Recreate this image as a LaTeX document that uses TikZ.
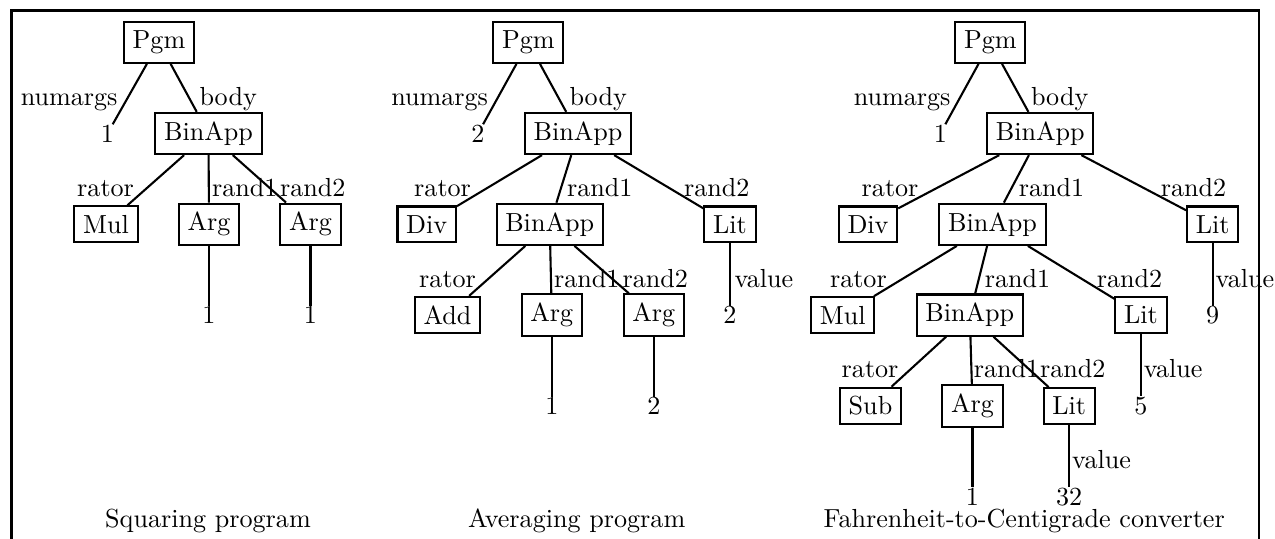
\documentclass[tikz,border=0pt]{standalone}
\usepackage{tikz}
\tikzset{
         astnode/.style={draw,thick,rectangle},
         leafval/.style={inner sep=0pt},
         edgelbl/.style={inner sep=0pt},
         astedge/.style={thick}
        }
\begin{document}
\begin{tikzpicture}[x=0.383pt,y=-0.383pt]
  \useasboundingbox (0,0) rectangle (1275,539);
  \draw[line width=1pt] (11.3,539) -- (11.3,10.5) -- (1259,10.5) -- (1259,539); % Frame
      % Squaring program
      \node[astnode] (pgmA) at (159,42.5) {Pgm};
      \node[leafval] (numA) at (107.5,133.5) {1};
      \node[astnode] (binA) at (208.5,133.5) {BinApp};
      \node[astnode] (mulA) at (106,224.3) {Mul};
      \node[astnode] (argA1) at (209,224.3) {Arg};
      \node[astnode] (argA2) at (310.5,224.3) {Arg};
      \node[leafval] (oneA1) at (209,315.1) {1};
      \node[leafval] (oneA2) at (310.5,315.1) {1};
      \draw[astedge] (pgmA) -- (numA); % numargs edge
      \draw[astedge] (pgmA) -- (binA); % body edge
      \draw[astedge] (binA) -- (mulA); % rator edge
      \draw[astedge] (binA) -- (argA1); % rand1 edge
      \draw[astedge] (binA) -- (argA2); % rand2 edge
      \draw[astedge] (argA1) -- (oneA1); % Arg leaf
      \draw[astedge] (argA2) -- (oneA2); % Arg leaf
      \node[edgelbl,anchor=base east] (lNumA) at (118,106) {numargs};
      \node[edgelbl,anchor=base west] (lBodyA) at (199,106) {body};
      \node[edgelbl,anchor=base east] (lRatorA) at (134.5,196.7) {rator};
      \node[edgelbl,anchor=base west] (lRandA1) at (211.5,196.7) {rand1};
      \node[edgelbl,anchor=base east] (lRandA2) at (346,196.7) {rand2};
      \node[anchor=base] (capA) at (208,528) {Squaring program}; % caption
      % Averaging program
      \node[astnode] (pgmB) at (528.3,42.5) {Pgm};
      \node[leafval] (numB) at (478,133.5) {2};
      \node[astnode] (binB) at (578,133.5) {BinApp};
      \node[astnode] (divB) at (426.7,224.3) {Div};
      \node[astnode] (bin2B) at (549.7,224.3) {BinApp};
      \node[astnode] (litB) at (730,224.3) {Lit};
      \node[astnode] (addB) at (447.5,315.1) {Add};
      \node[astnode] (argB1) at (551.8,315.1) {Arg};
      \node[astnode] (argB2) at (653.8,315.1) {Arg};
      \node[leafval] (valB) at (730,315.1) {2};
      \node[leafval] (oneB) at (551.8,405.9) {1};
      \node[leafval] (twoB) at (653.8,405.9) {2};
      \draw[astedge] (pgmB) -- (numB); % numargs edge
      \draw[astedge] (pgmB) -- (binB); % body edge
      \draw[astedge] (binB) -- (divB); % rator edge
      \draw[astedge] (binB) -- (bin2B); % rand1 edge
      \draw[astedge] (binB) -- (litB); % rand2 edge
      \draw[astedge] (bin2B) -- (addB); % rator edge
      \draw[astedge] (bin2B) -- (argB1); % rand1 edge
      \draw[astedge] (bin2B) -- (argB2); % rand2 edge
      \draw[astedge] (litB) -- (valB); % value edge
      \draw[astedge] (argB1) -- (oneB); % Arg leaf
      \draw[astedge] (argB2) -- (twoB); % Arg leaf
      \node[edgelbl,anchor=base east] (lNumB) at (488.5,106) {numargs};
      \node[edgelbl,anchor=base west] (lBodyB) at (569,106) {body};
      \node[edgelbl,anchor=base east] (lRatorB) at (471.5,196.7) {rator};
      \node[edgelbl,anchor=base west] (lRandB1) at (566.5,196.7) {rand1};
      \node[edgelbl,anchor=base east] (lRandB2) at (750,196.7) {rand2};
      \node[edgelbl,anchor=base east] (lRatorB2) at (476.5,287.1) {rator};
      \node[edgelbl,anchor=base west] (lRandB3) at (553.5,287.1) {rand1};
      \node[edgelbl,anchor=base east] (lRandB4) at (688.5,287.1) {rand2};
      \node[edgelbl,anchor=base west] (lValB) at (734,287.1) {value};
      \node[anchor=base] (capB) at (576.7,528) {Averaging program}; % caption
      % Fahrenheit-to-Centigrade converter
      \node[astnode] (pgmC) at (990.3,42.5) {Pgm};
      \node[leafval] (numC) at (940.3,133.5) {1};
      \node[astnode] (binC) at (1040.3,133.5) {BinApp};
      \node[astnode] (divC) at (868,224.3) {Div};
      \node[astnode] (bin2C) at (992.5,224.3) {BinApp};
      \node[astnode] (litC) at (1212.7,224.3) {Lit};
      \node[astnode] (mulC) at (842.8,315.1) {Mul};
      \node[astnode] (bin3C) at (969.8,315.1) {BinApp};
      \node[astnode] (litC2) at (1141,315.1) {Lit};
      \node[leafval] (nineC) at (1212.7,315.1) {9};
      \node[astnode] (subC) at (870.5,405.9) {Sub};
      \node[astnode] (argC) at (972.5,405.9) {Arg};
      \node[astnode] (litC3) at (1069.2,405.9) {Lit};
      \node[leafval] (fiveC) at (1141,405.9) {5};
      \node[leafval] (oneC) at (972.5,496.7) {1};
      \node[leafval] (ttC) at (1069.2,496.7) {32};
      \draw[astedge] (pgmC) -- (numC); % numargs edge
      \draw[astedge] (pgmC) -- (binC); % body edge
      \draw[astedge] (binC) -- (divC); % rator edge
      \draw[astedge] (binC) -- (bin2C); % rand1 edge
      \draw[astedge] (binC) -- (litC); % rand2 edge
      \draw[astedge] (litC) -- (nineC); % value edge
      \draw[astedge] (bin2C) -- (mulC); % rator edge
      \draw[astedge] (bin2C) -- (bin3C); % rand1 edge
      \draw[astedge] (bin2C) -- (litC2); % rand2 edge
      \draw[astedge] (litC2) -- (fiveC); % value edge
      \draw[astedge] (bin3C) -- (subC); % rator edge
      \draw[astedge] (bin3C) -- (argC); % rand1 edge
      \draw[astedge] (bin3C) -- (litC3); % rand2 edge
      \draw[astedge] (argC) -- (oneC); % Arg leaf
      \draw[astedge] (litC3) -- (ttC); % value edge
      \node[edgelbl,anchor=base east] (lNumC) at (951,106) {numargs};
      \node[edgelbl,anchor=base west] (lBodyC) at (1030.5,106) {body};
      \node[edgelbl,anchor=base east] (lRatorC) at (919,196.7) {rator};
      \node[edgelbl,anchor=base west] (lRandC1) at (1018.3,196.7) {rand1};
      \node[edgelbl,anchor=base east] (lRandC2) at (1226.7,196.7) {rand2};
      \node[edgelbl,anchor=base east] (lRatorC2) at (887.3,287.1) {rator};
      \node[edgelbl,anchor=base west] (lRandC3) at (984.3,287.1) {rand1};
      \node[edgelbl,anchor=base east] (lRandC4) at (1162.7,287.1) {rand2};
      \node[edgelbl,anchor=base west] (lValC) at (1215,287.1) {value};
      \node[edgelbl,anchor=base east] (lRatorC3) at (899,377.7) {rator};
      \node[edgelbl,anchor=base west] (lRandC5) at (973.3,377.7) {rand1};
      \node[edgelbl,anchor=base east] (lRandC6) at (1106,377.7) {rand2};
      \node[edgelbl,anchor=base west] (lValC2) at (1143.3,377.7) {value};
      \node[edgelbl,anchor=base west] (lValC3) at (1071.7,468.3) {value};
      \node[anchor=base] (capC) at (1024.2,528) {Fahrenheit-to-Centigrade converter}; % caption
\end{tikzpicture}
\end{document}
